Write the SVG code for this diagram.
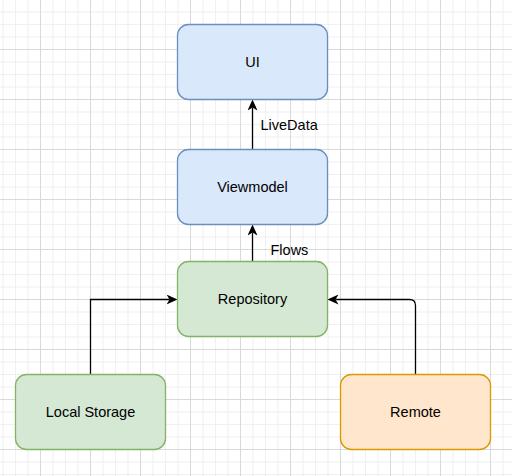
<svg xmlns="http://www.w3.org/2000/svg" width="512" height="476" viewBox="0 0 512 476">
<style>
.lbl{font-family:"Liberation Sans",Arial,sans-serif;font-size:14.5px;fill:#000}
.mid{text-anchor:middle;dominant-baseline:central}
.edge{fill:none;stroke:#000;stroke-width:1.3}
.blue{fill:#dae8fc;stroke:#6c8ebf;stroke-width:1.3}
.green{fill:#d5e8d4;stroke:#82b366;stroke-width:1.3}
.orange{fill:#ffe6cc;stroke:#d79b00;stroke-width:1.3}
</style>
<defs>
<pattern id="grid" patternUnits="userSpaceOnUse" x="40" y="49" width="50" height="50">
<rect x="12.5" y="0" width="1" height="50" fill="#f0f0f0"/>
<rect x="25" y="0" width="1" height="50" fill="#f0f0f0"/>
<rect x="37.5" y="0" width="1" height="50" fill="#f0f0f0"/>
<rect x="0" y="12.5" width="50" height="1" fill="#f0f0f0"/>
<rect x="0" y="25" width="50" height="1" fill="#f0f0f0"/>
<rect x="0" y="37.5" width="50" height="1" fill="#f0f0f0"/>
<rect x="0" y="0" width="1" height="50" fill="#d9d9d9"/>
<rect x="0" y="0" width="50" height="1" fill="#d9d9d9"/>
</pattern>
<marker id="arr" markerUnits="userSpaceOnUse" viewBox="0 0 11 10" markerWidth="11" markerHeight="10" refX="3" refY="5" orient="auto">
<path d="M11,5 L0,0 L3,5 L0,10 Z" fill="#000"/>
</marker>
</defs>
<rect width="512" height="476" fill="#fff"/>
<rect width="512" height="476" fill="url(#grid)"/>
<g id="connectors">
<path class="edge" d="M252.5,149.5 V107.5" marker-end="url(#arr)"/>
<path class="edge" d="M252.5,261.5 V232.5" marker-end="url(#arr)"/>
<path class="edge" d="M90.5,374.5 V299.5 H169.5" marker-end="url(#arr)"/>
<path class="edge" d="M415.5,374.5 V305.5 Q415.5,299.5 409.5,299.5 H335.5" marker-end="url(#arr)"/>
<text class="lbl" x="260.5" y="130">LiveData</text>
<text class="lbl" x="270.5" y="255">Flows</text>
</g>
<g id="ui">
<rect class="blue" x="177.5" y="24.5" width="150" height="75" rx="11" ry="11"/>
<text class="lbl mid" x="252.5" y="62">UI</text>
</g>
<g id="viewmodel">
<rect class="blue" x="177.5" y="149.5" width="150" height="75" rx="11" ry="11"/>
<text class="lbl mid" x="252.5" y="187">Viewmodel</text>
</g>
<g id="repository">
<rect class="green" x="177.5" y="261.5" width="150" height="75" rx="11" ry="11"/>
<text class="lbl mid" x="252.5" y="299">Repository</text>
</g>
<g id="local-storage">
<rect class="green" x="15.5" y="374.5" width="150" height="75" rx="11" ry="11"/>
<text class="lbl mid" x="90.5" y="412">Local Storage</text>
</g>
<g id="remote">
<rect class="orange" x="340.5" y="374.5" width="150" height="75" rx="11" ry="11"/>
<text class="lbl mid" x="415.5" y="412">Remote</text>
</g>
</svg>
